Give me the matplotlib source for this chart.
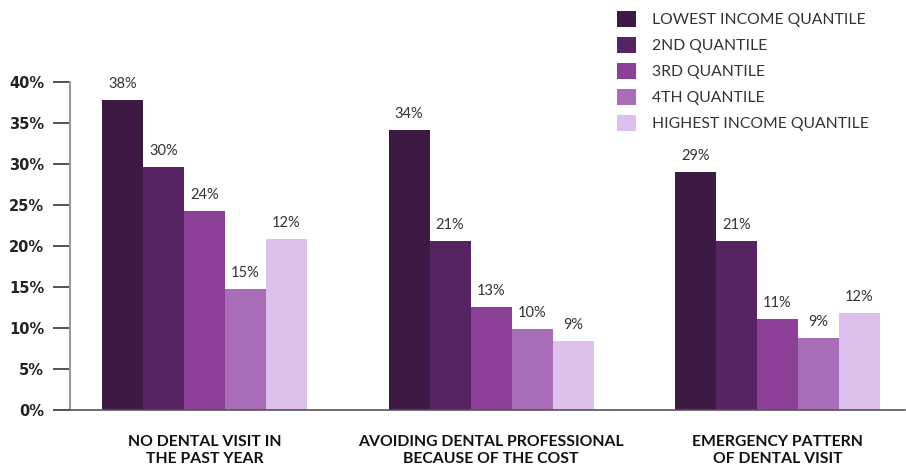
import numpy as np
import matplotlib.pyplot as plt
from matplotlib.patches import Patch

plt.rcParams['font.family'] = ['Lato', 'DejaVu Sans']

categories = ['NO DENTAL VISIT IN\nTHE PAST YEAR',
              'AVOIDING DENTAL PROFESSIONAL\nBECAUSE OF THE COST',
              'EMERGENCY PATTERN\nOF DENTAL VISIT']
series = ['LOWEST INCOME QUANTILE', '2ND QUANTILE', '3RD QUANTILE',
          '4TH QUANTILE', 'HIGHEST INCOME QUANTILE']
# bar heights as drawn in the picture
heights = [
    [37.8, 34.1, 29.0],
    [29.6, 20.6, 20.6],
    [24.3, 12.6, 11.1],
    [14.8, 9.9, 8.8],
    [20.9, 8.4, 11.8],
]
# labels printed above the bars
labels = [
    ['38%', '34%', '29%'],
    ['30%', '21%', '21%'],
    ['24%', '13%', '11%'],
    ['15%', '10%', '9%'],
    ['12%', '9%', '12%'],
]
colors = ['#3d1a43', '#572463', '#8c3f97', '#a96db7', '#dcc1ee']
yticks = [0, 5, 10, 15, 20, 25, 30, 35, 40]

fig = plt.figure(figsize=(9.06, 4.67), dpi=100)
ax = fig.add_axes([58 / 906, 57 / 467, (905 - 58) / 906, 328 / 467])

# spines first: moving a spine resets the tick labels
ax.spines['top'].set_visible(False)
ax.spines['right'].set_visible(False)
ax.spines['left'].set_position(('data', (70 - 204.5) / 286.5))
ax.spines['left'].set_color('#999999')
ax.spines['left'].set_linewidth(1.5)
ax.spines['bottom'].set_color('#555555')
ax.spines['bottom'].set_linewidth(1.2)

x = np.arange(len(categories))
w = 41 / 286.5
for i, (h, lab, c) in enumerate(zip(heights, labels, colors)):
    pos = x + (i - 2) * w
    ax.bar(pos, h, width=w, color=c, edgecolor='none')
    for px, ph, pl in zip(pos, h, lab):
        ax.text(px, ph + 1.1, pl, ha='center', va='bottom', fontsize=10.5,
                color='#333333')

ax.set_xlim((58 - 204.5) / 286.5, (905 - 204.5) / 286.5)
ax.set_ylim(0, 40)
ax.tick_params(axis='x', length=0, pad=18)
ax.tick_params(axis='y', length=12, width=1.2, color='#333333', pad=6.5)
ax.set_yticks(yticks)
ax.set_yticklabels([f'{t}%' for t in yticks], fontsize=10.5, fontweight='bold',
                   color='#222222', family='DejaVu Sans')
ax.set_xticks(x)
ax.set_xticklabels(categories, fontsize=11.3, fontweight='bold', color='#111111',
                   linespacing=1.25)

handles = [Patch(facecolor=c, edgecolor='none') for c in colors]
fig.legend(handles, series, loc='upper left', bbox_to_anchor=(603 / 906, 1.007),
           frameon=False, fontsize=11.3, handlelength=1.2, handleheight=1.2,
           handletextpad=1.05, labelspacing=0.62, labelcolor='#333333')

fig.savefig('out.png', dpi=100)
